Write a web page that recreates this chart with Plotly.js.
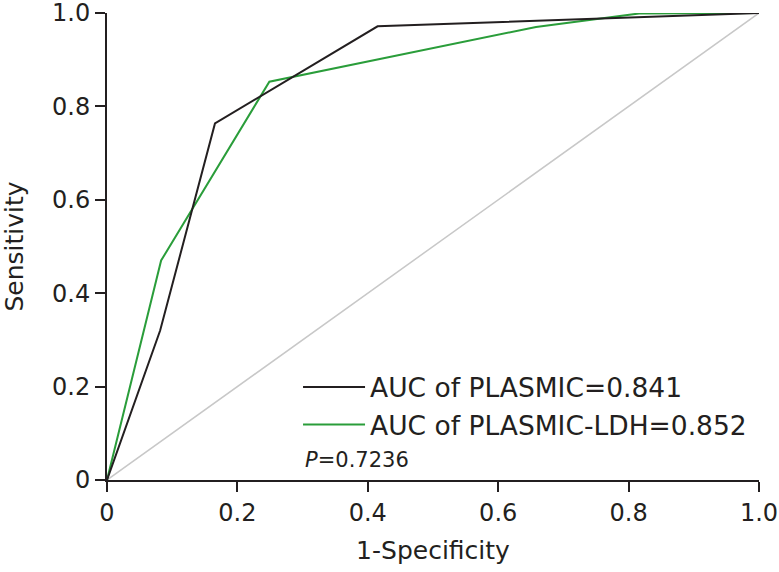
<!DOCTYPE html>
<html>
<head>
<meta charset="utf-8">
<script src="https://cdn.plot.ly/plotly-3.0.1.min.js"></script>
<style>html,body{margin:0;padding:0;background:#fff;}</style>
</head>
<body>
<div id="chart" style="width:779px;height:572px;"></div>
<script>
// ROC curve for PLASMIC score
const plasmicX = [0, 0.0815, 0.1656, 0.415, 1.0];
const plasmicY = [0, 0.320, 0.7635, 0.9715, 1.0];
// ROC curve for PLASMIC-LDH score
const ldhX = [0, 0.083, 0.249, 0.658, 0.816, 1.0];
const ldhY = [0, 0.470, 0.853, 0.970, 0.999, 1.0];
// Reference diagonal
const refX = [0, 1];
const refY = [0, 1];
const tickVals = [0, 0.2, 0.4, 0.6, 0.8, 1.0];
const tickText = ['0', '0.2', '0.4', '0.6', '0.8', '1.0'];
const seriesNames = ['AUC of PLASMIC=0.841', 'AUC of PLASMIC-LDH=0.852'];
const pText = '<i>P</i>=0.7236';

const FONT = 'DejaVu Sans, sans-serif';
const INK = '#231f20';

const traces = [
  {x: refX, y: refY, mode: 'lines', line: {color: '#c8c8c8', width: 1.5}, showlegend: false, hoverinfo: 'skip'},
  {x: ldhX, y: ldhY, mode: 'lines', name: seriesNames[1], line: {color: '#2a9d3a', width: 2}},
  {x: plasmicX, y: plasmicY, mode: 'lines', name: seriesNames[0], line: {color: INK, width: 2}}
];

const axisCommon = {
  range: [0, 1],
  tickvals: tickVals,
  ticktext: tickText,
  showgrid: false,
  zeroline: false,
  showline: true,
  linecolor: INK,
  linewidth: 2,
  ticks: 'outside',
  ticklen: 10,
  tickwidth: 2,
  tickcolor: INK,
  ticklabeloverflow: 'allow',
  tickfont: {family: FONT, size: 24, color: INK}
};

const layout = {
  width: 779,
  height: 572,
  margin: {l: 107, r: 20, t: 13, b: 92},
  paper_bgcolor: '#fff',
  plot_bgcolor: '#fff',
  font: {family: FONT, color: INK},
  xaxis: Object.assign({}, axisCommon, {
    automargin: false,
    title: {text: '1-Specificity', font: {family: FONT, size: 25, color: INK}, standoff: 16}
  }),
  yaxis: Object.assign({}, axisCommon, {
    automargin: 'left',
    title: {text: 'Sensitivity', font: {family: FONT, size: 25, color: INK}, standoff: 23}
  }),
  legend: {
    x: 0.293, y: 0.25, xanchor: 'left', yanchor: 'top',
    traceorder: 'reversed',
    bgcolor: 'rgba(0,0,0,0)',
    font: {family: FONT, size: 26.5, color: INK},
    itemwidth: 62,
    tracegroupgap: 0
  },
  annotations: [{
    xref: 'paper', yref: 'paper', x: 0.3, y: 0.043, xanchor: 'left', yanchor: 'middle',
    text: pText, showarrow: false, font: {family: FONT, size: 21, color: INK}
  }]
};

Plotly.newPlot('chart', traces, layout, {displayModeBar: false, staticPlot: true});
</script>
</body>
</html>
